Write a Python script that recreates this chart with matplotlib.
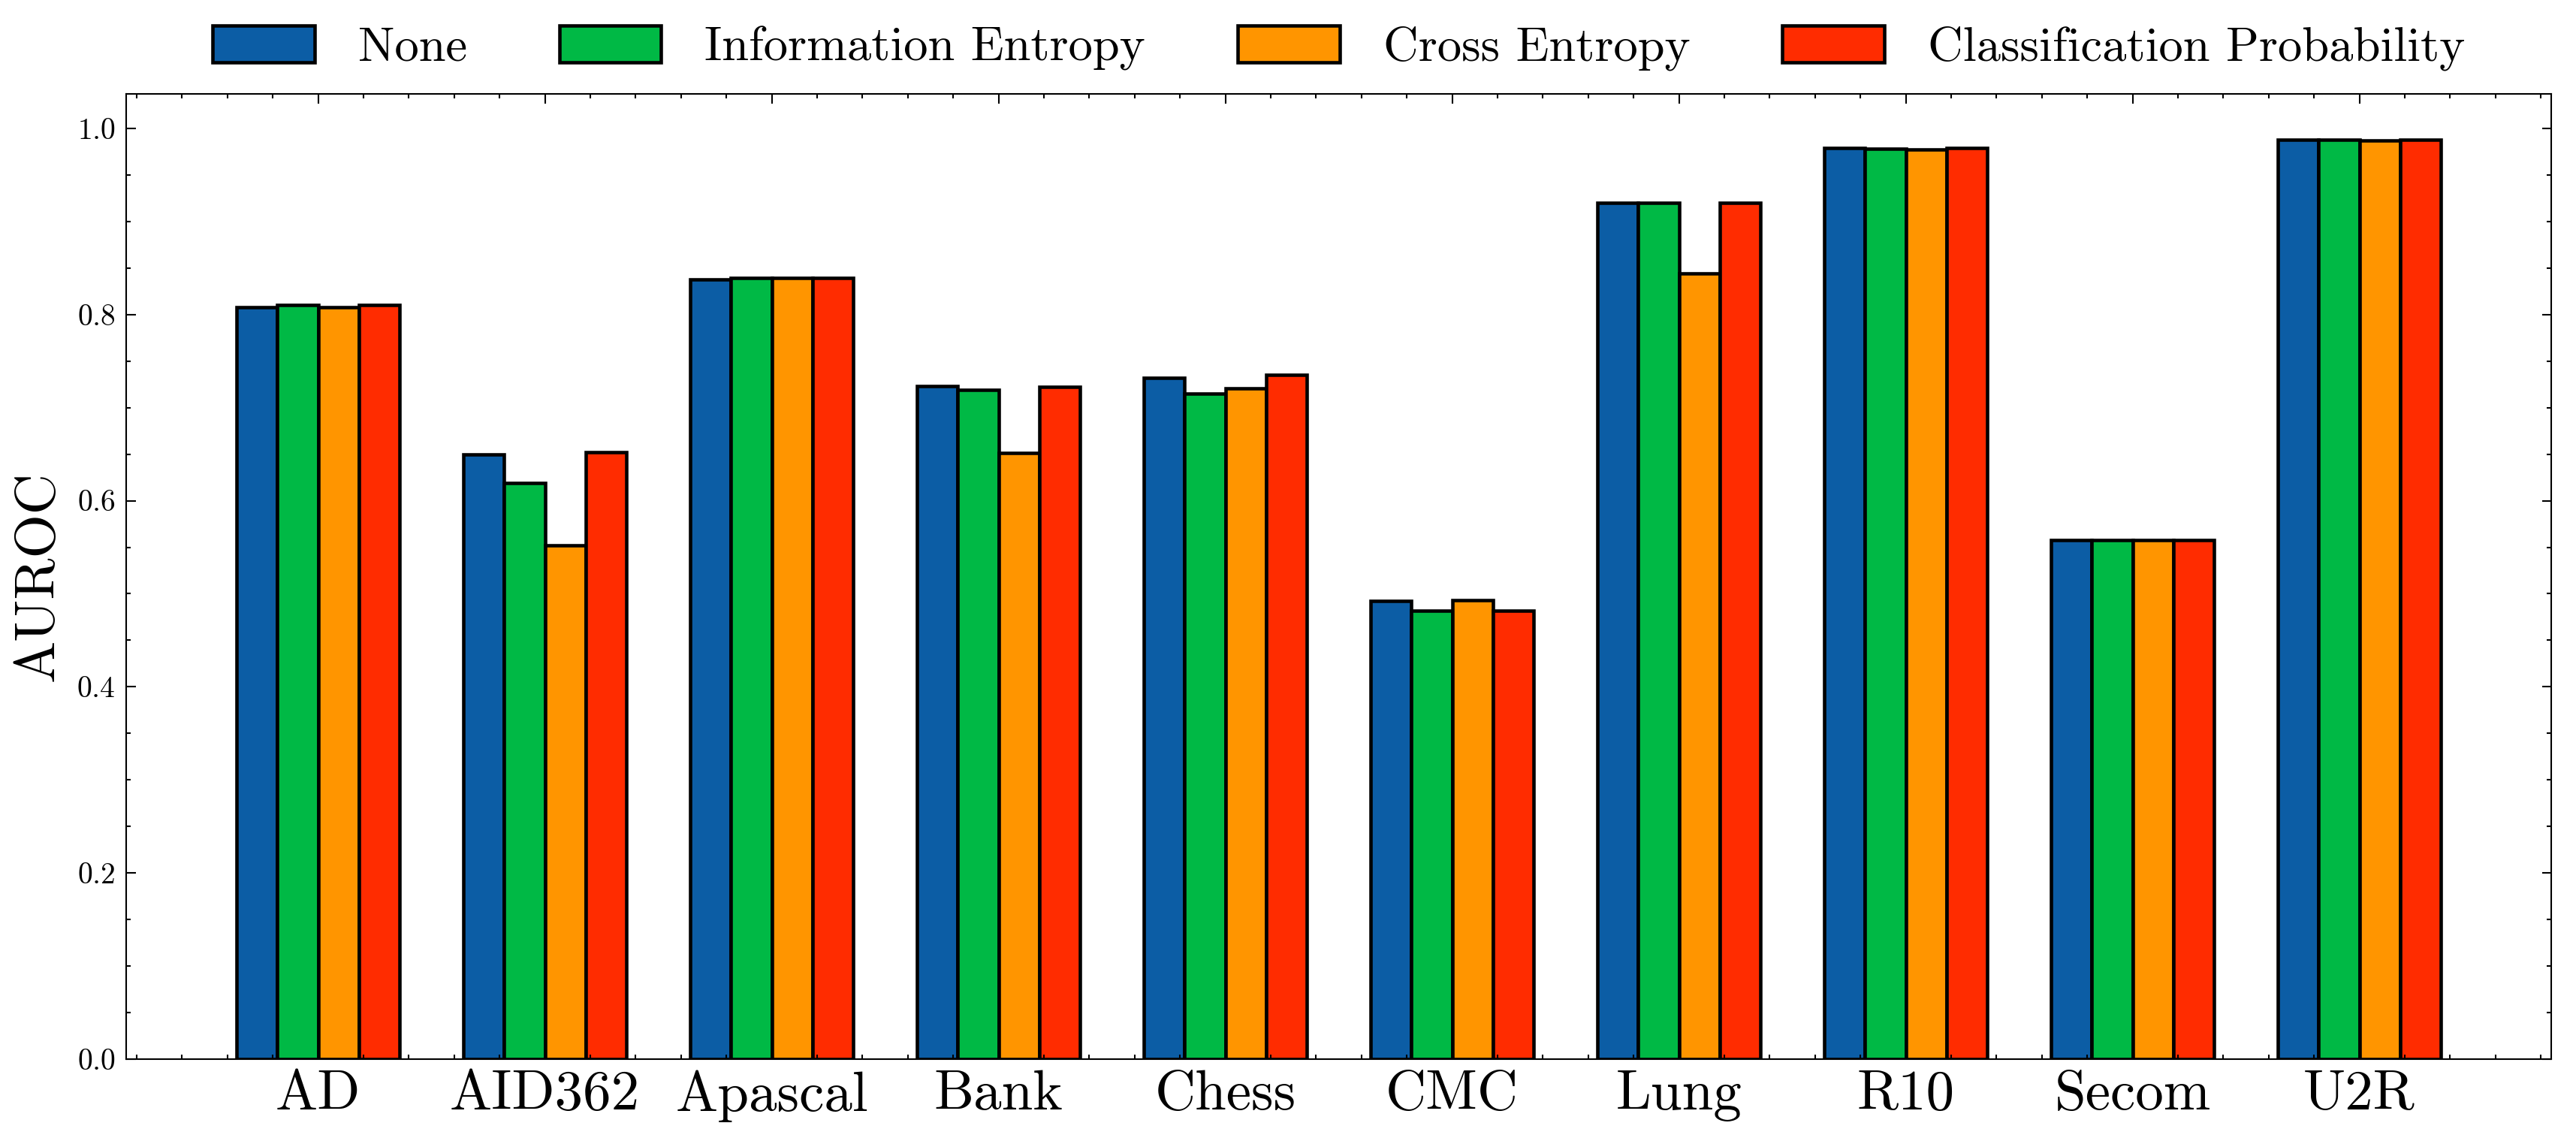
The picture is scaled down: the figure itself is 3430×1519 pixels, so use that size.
import numpy as np
import matplotlib
matplotlib.use("Agg")
import matplotlib.pyplot as plt
from matplotlib.ticker import AutoMinorLocator

#%% data
datasets = ["AD", "AID362", "Apascal", "Bank", "Chess", "CMC", "Lung", "R10", "Secom", "U2R"]
methods = ["None", "Information Entropy", "Cross Entropy", "Classification Probability"]

auroc_none = [0.808, 0.650, 0.838, 0.723, 0.732, 0.492, 0.920, 0.979, 0.558, 0.988]
auroc_info = [0.810, 0.619, 0.839, 0.719, 0.715, 0.482, 0.920, 0.978, 0.558, 0.988]
auroc_cross = [0.808, 0.552, 0.839, 0.651, 0.721, 0.493, 0.844, 0.977, 0.558, 0.987]
auroc_prob = [0.810, 0.652, 0.839, 0.722, 0.735, 0.482, 0.920, 0.979, 0.558, 0.988]

COLORS = ["#0C5DA5", "#00B945", "#FF9500", "#FF2C00"]
BAR_WIDTH = 0.18

#%% style (science-like)
plt.rcParams["font.family"] = "serif"
plt.rcParams["font.serif"] = ["cmr10"]
plt.rcParams["mathtext.fontset"] = "cm"
plt.rcParams["axes.formatter.use_mathtext"] = True
plt.rcParams["axes.linewidth"] = 0.5
for ax_name in ["xtick", "ytick"]:
    plt.rcParams[ax_name + ".direction"] = "in"
    plt.rcParams[ax_name + ".major.size"] = 3
    plt.rcParams[ax_name + ".major.width"] = 0.5
    plt.rcParams[ax_name + ".minor.size"] = 1.5
    plt.rcParams[ax_name + ".minor.width"] = 0.5
    plt.rcParams[ax_name + ".minor.visible"] = True
plt.rcParams["xtick.top"] = True
plt.rcParams["ytick.right"] = True

#%% plot
fig, ax = plt.subplots(figsize=(3430 / 300, 1519 / 300), dpi=300)
fig.subplots_adjust(left=0.049, right=0.9904, bottom=0.0717, top=0.918)

x = np.arange(len(datasets))
series = [auroc_none, auroc_info, auroc_cross, auroc_prob]

for i, (values, label) in enumerate(zip(series, methods)):
    ax.bar(x + (i - 1.5) * BAR_WIDTH, values, BAR_WIDTH, label=label,
           color=COLORS[i], edgecolor="black", linewidth=1.1)

ax.set_xticks(x)
ax.set_xticklabels(datasets, fontsize=18)
ax.xaxis.set_minor_locator(AutoMinorLocator())
ax.yaxis.set_minor_locator(AutoMinorLocator())
ax.tick_params(axis="y", labelsize=9.5)
ax.set_ylabel("AUROC", fontsize=18)

ax.legend(loc="center", bbox_to_anchor=(0.5, 1.047), ncol=4, frameon=False,
          fontsize=15.5, handlelength=2.1, handleheight=0.8,
          handletextpad=0.9, columnspacing=1.9)

fig.savefig("out.png", dpi=300)
